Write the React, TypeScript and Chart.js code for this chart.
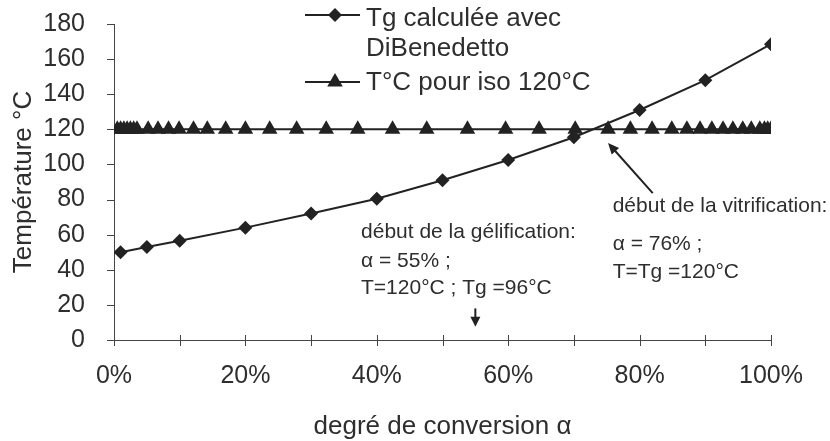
import React, { useEffect, useRef } from 'react';
import { Chart, registerables } from 'chart.js';

Chart.register(...registerables);

// ---- data ----
const tgConversion = [1, 5, 10, 20, 30, 40, 50, 60, 70, 80, 90, 100];
const tgValues = [50, 53, 56.5, 64, 72, 80.5, 91, 102.5, 115.5, 131, 148, 168.5];

const isoConversion = [
  0.5, 1, 1.5, 2, 2.5, 3, 3.5, 5.2, 6.7, 8.3, 9.9, 12.1, 14.2, 17.0, 20.0, 23.7,
  27.8, 32.3, 37.1, 42.4, 47.6, 53.8, 59.6, 64.7, 70.2, 75.2, 78.6, 81.9, 84.9,
  87.2, 89.2, 91.0, 92.7, 94.2, 95.7, 97.0, 98.3, 99.0, 99.5, 100,
];
const isoValues = [
  120, 120, 120, 120, 120, 120, 120, 120, 120, 120, 120, 120, 120, 120, 120, 120,
  120, 120, 120, 120, 120, 120, 120, 120, 120, 120, 120, 120, 120, 120, 120, 120,
  120, 120, 120, 120, 120, 120, 120, 120,
];

const xTickValues = [0, 10, 20, 30, 40, 50, 60, 70, 80, 90, 100];
const xTickLabels = ['0%', '', '20%', '', '40%', '', '60%', '', '80%', '', '100%'];
const yTickValues = [0, 20, 40, 60, 80, 100, 120, 140, 160, 180];

const seriesNames = [['Tg calculée avec', 'DiBenedetto'], ['T°C pour iso 120°C']];
const xTitle = 'degré de conversion α';
const yTitle = 'Température °C';

const gelText = ['début de la gélification:', 'α = 55% ;', 'T=120°C ; Tg =96°C'];
const gelTextAnchor = { x: 37.6, y: [58.1, 41.6, 26.2] };
const gelArrow = { x: 55, yFrom: 18, yTo: 7.5 };

const vitText = ['début de la vitrification:', 'α = 76% ;', 'T=Tg =120°C'];
const vitTextAnchor = { x: 75.9, y: [72.9, 51.3, 35.3] };
const vitArrow = { xFrom: 82.0, yFrom: 83.7, xTo: 75.2, yTo: 112.2 };

const FONT = '"Liberation Sans", Arial, sans-serif';
const INK = '#222222';
const TEXT = '#2e2e2e';

function arrowHead(ctx: CanvasRenderingContext2D, x1: number, y1: number, x2: number, y2: number, len: number, half: number) {
  const ang = Math.atan2(y2 - y1, x2 - x1);
  ctx.beginPath();
  ctx.moveTo(x2, y2);
  ctx.lineTo(x2 - len * Math.cos(ang) + half * Math.sin(ang), y2 - len * Math.sin(ang) - half * Math.cos(ang));
  ctx.lineTo(x2 - len * Math.cos(ang) - half * Math.sin(ang), y2 - len * Math.sin(ang) + half * Math.cos(ang));
  ctx.closePath();
  ctx.fill();
}

const decorPlugin = {
  id: 'decor',
  afterDraw(chart: any) {
    const ctx: CanvasRenderingContext2D = chart.ctx;
    const xs = chart.scales.x;
    const ys = chart.scales.y;
    const area = chart.chartArea;
    ctx.save();
    // tick marks
    ctx.strokeStyle = '#444';
    ctx.lineWidth = 1;
    ctx.beginPath();
    yTickValues.forEach((v) => {
      const py = Math.round(ys.getPixelForValue(v)) + 0.5;
      ctx.moveTo(area.left - 7, py);
      ctx.lineTo(area.left, py);
    });
    xTickValues.forEach((v) => {
      const px = Math.round(xs.getPixelForValue(v)) + 0.5;
      ctx.moveTo(px, area.bottom - 5);
      ctx.lineTo(px, area.bottom + 6);
    });
    ctx.stroke();

    // legend
    ctx.fillStyle = TEXT;
    ctx.strokeStyle = INK;
    ctx.font = `26px ${FONT}`;
    ctx.textBaseline = 'alphabetic';
    ctx.textAlign = 'left';
    // item 1
    ctx.lineWidth = 2;
    ctx.beginPath();
    ctx.moveTo(305, 15);
    ctx.lineTo(360, 15);
    ctx.stroke();
    ctx.fillStyle = INK;
    ctx.beginPath();
    ctx.moveTo(335 - 7, 15);
    ctx.lineTo(335, 15 - 7);
    ctx.lineTo(335 + 7, 15);
    ctx.lineTo(335, 15 + 7);
    ctx.closePath();
    ctx.fill();
    ctx.fillStyle = TEXT;
    ctx.fillText(seriesNames[0][0], 366, 26);
    ctx.fillText(seriesNames[0][1], 366, 56);
    // item 2
    ctx.beginPath();
    ctx.moveTo(305, 82);
    ctx.lineTo(360, 82);
    ctx.stroke();
    ctx.fillStyle = INK;
    const r = 9;
    ctx.beginPath();
    ctx.moveTo(335, 82 - r);
    ctx.lineTo(335 + r * Math.sin((2 * Math.PI) / 3), 82 + r / 2);
    ctx.lineTo(335 - r * Math.sin((2 * Math.PI) / 3), 82 + r / 2);
    ctx.closePath();
    ctx.fill();
    ctx.fillStyle = TEXT;
    ctx.fillText(seriesNames[1][0], 366, 90);

    // annotations
    ctx.font = `21px ${FONT}`;
    gelText.forEach((t, i) => {
      ctx.fillText(t, xs.getPixelForValue(gelTextAnchor.x), ys.getPixelForValue(gelTextAnchor.y[i]));
    });
    vitText.forEach((t, i) => {
      ctx.fillText(t, xs.getPixelForValue(vitTextAnchor.x), ys.getPixelForValue(vitTextAnchor.y[i]));
    });

    ctx.strokeStyle = INK;
    ctx.fillStyle = INK;
    ctx.lineWidth = 2;
    // gel arrow
    const gx = xs.getPixelForValue(gelArrow.x);
    const gy1 = ys.getPixelForValue(gelArrow.yFrom);
    const gy2 = ys.getPixelForValue(gelArrow.yTo);
    ctx.beginPath();
    ctx.moveTo(gx, gy1);
    ctx.lineTo(gx, gy2 - 6);
    ctx.stroke();
    arrowHead(ctx, gx, gy1, gx, gy2, 10, 5);
    // vit arrow
    const vx1 = xs.getPixelForValue(vitArrow.xFrom);
    const vy1 = ys.getPixelForValue(vitArrow.yFrom);
    const vx2 = xs.getPixelForValue(vitArrow.xTo);
    const vy2 = ys.getPixelForValue(vitArrow.yTo);
    ctx.beginPath();
    ctx.moveTo(vx1, vy1);
    ctx.lineTo(vx2 + (vx1 - vx2) * 0.1, vy2 + (vy1 - vy2) * 0.1);
    ctx.stroke();
    arrowHead(ctx, vx1, vy1, vx2, vy2, 11, 5);
    ctx.restore();
  },
};

export default function App() {
  const ref = useRef<HTMLCanvasElement | null>(null);
  useEffect(() => {
    if (!ref.current) return;
    const chart = new Chart(ref.current, {
      type: 'line',
      data: {
        datasets: [
          {
            label: seriesNames[0].join(' '),
            data: tgConversion.map((x, i) => ({ x, y: tgValues[i] })),
            borderColor: INK,
            backgroundColor: INK,
            borderWidth: 2,
            pointStyle: 'rectRot',
            pointRadius: 7,
            pointBorderWidth: 0,
            tension: 0,
          },
          {
            label: seriesNames[1][0],
            data: isoConversion.map((x, i) => ({ x, y: isoValues[i] })),
            borderColor: INK,
            backgroundColor: INK,
            borderWidth: 2,
            pointStyle: 'triangle',
            pointRadius: 9,
            pointBorderWidth: 0,
            tension: 0,
          },
        ],
      },
      options: {
        responsive: false,
        animation: false,
        layout: { padding: { top: 24, right: 59, left: 0, bottom: 0 } },
        plugins: {
          legend: { display: false },
          tooltip: { enabled: false },
        },
        scales: {
          x: {
            type: 'linear',
            min: 0,
            max: 100,
            afterFit: (s: any) => {
              s.height = 101;
              s.paddingLeft = 0;
              s.paddingRight = 0;
            },
            afterBuildTicks: (s: any) => {
              s.ticks = xTickValues.map((v) => ({ value: v }));
            },
            grid: { display: false },
            border: { display: true, color: '#444', width: 1 },
            ticks: {
              autoSkip: false,
              maxRotation: 0,
              padding: 13,
              color: TEXT,
              font: { family: FONT, size: 25 },
              callback: (v: any) => xTickLabels[xTickValues.indexOf(Number(v))] ?? '',
            },
            title: {
              display: true,
              text: xTitle,
              color: TEXT,
              font: { family: FONT, size: 26 },
              padding: { top: 0, bottom: -1 },
            },
          },
          y: {
            type: 'linear',
            min: 0,
            max: 180,
            afterFit: (s: any) => {
              s.width = 114;
              s.paddingTop = 0;
              s.paddingBottom = 0;
            },
            afterBuildTicks: (s: any) => {
              s.ticks = yTickValues.map((v) => ({ value: v }));
            },
            grid: { display: false },
            border: { display: true, color: '#444', width: 1 },
            ticks: {
              padding: 21,
              color: TEXT,
              font: { family: FONT, size: 25 },
            },
            title: {
              display: true,
              text: yTitle,
              color: TEXT,
              font: { family: FONT, size: 26 },
              padding: { top: 8, bottom: 0 },
            },
          },
        },
      },
      plugins: [decorPlugin],
    });
    return () => chart.destroy();
  }, []);
  return (
    <div style={{ position: 'absolute', left: 0, top: 0, width: 830, height: 441, background: '#fff' }}>
      <canvas ref={ref} width={830} height={441} style={{ display: 'block' }} />
    </div>
  );
}
